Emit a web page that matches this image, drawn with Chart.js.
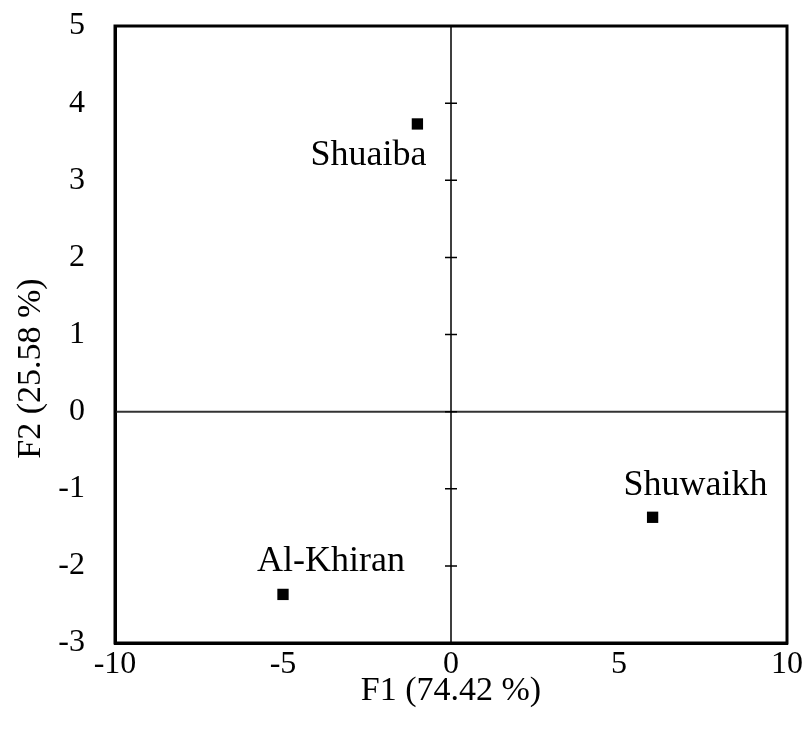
<!DOCTYPE html>
<html>
<head>
<meta charset="utf-8">
<script src="https://cdn.jsdelivr.net/npm/chart.js@4"></script>
<style>
  html, body { margin: 0; padding: 0; background: #fff; }
  #wrap { width: 803px; height: 737px; }
</style>
</head>
<body>
<div id="wrap"><canvas id="chart" width="803" height="737"></canvas></div>
<script>
// PCA scores of the three sites
const siteNames = ['Shuaiba', 'Shuwaikh', 'Al-Khiran'];
const f1Values = [-1, 6, -5];
const f2Values = [3.73, -1.37, -2.37];
const xTitle = 'F1 (74.42 %)';
const yTitle = 'F2 (25.58 %)';

const serif = '"Liberation Serif", "Times New Roman", serif';

// label placement relative to each point (px), baseline anchored
const labelOffsets = [[-49, 41], [43, -22], [48, -23]];

// zero axes, with ticks on the vertical one only
const zeroAxes = {
  id: 'zeroAxes',
  beforeDatasetsDraw(chart) {
    const { ctx, chartArea: a, scales: { x, y } } = chart;
    const x0 = x.getPixelForValue(0);
    const y0 = y.getPixelForValue(0);
    ctx.save();
    ctx.strokeStyle = '#333';
    ctx.lineWidth = 2;
    ctx.beginPath();
    ctx.moveTo(a.left, y0);
    ctx.lineTo(a.right, y0);
    ctx.stroke();
    ctx.strokeStyle = '#000';
    ctx.lineWidth = 1.5;
    ctx.beginPath();
    ctx.moveTo(x0, a.top);
    ctx.lineTo(x0, a.bottom);
    y.ticks.forEach(t => {
      const py = y.getPixelForValue(t.value);
      ctx.moveTo(x0 - 6, py);
      ctx.lineTo(x0 + 6, py);
    });
    ctx.stroke();
    ctx.restore();
  }
};

const pointLabels = {
  id: 'pointLabels',
  afterDatasetsDraw(chart) {
    const { ctx } = chart;
    const meta = chart.getDatasetMeta(0);
    ctx.save();
    ctx.font = '36px ' + serif;
    ctx.fillStyle = '#000';
    ctx.textAlign = 'center';
    ctx.textBaseline = 'alphabetic';
    meta.data.forEach((pt, i) => {
      const [dx, dy] = labelOffsets[i];
      ctx.fillText(siteNames[i], pt.x + dx, pt.y + dy);
    });
    ctx.restore();
  }
};

// y title is centred on the whole canvas height in the original, not the plot
const yTitlePlugin = {
  id: 'yTitle',
  afterDraw(chart) {
    const { ctx, height } = chart;
    ctx.save();
    ctx.font = '34px ' + serif;
    ctx.fillStyle = '#000';
    ctx.textAlign = 'center';
    ctx.textBaseline = 'middle';
    ctx.translate(31, height / 2);
    ctx.rotate(-Math.PI / 2);
    ctx.fillText(yTitle, 0, 0);
    ctx.restore();
  }
};

new Chart(document.getElementById('chart'), {
  type: 'scatter',
  data: {
    datasets: [{
      data: f1Values.map((v, i) => ({ x: v, y: f2Values[i] })),
      pointStyle: 'rect',
      pointRadius: 8,
      backgroundColor: '#000',
      borderColor: '#000',
      borderWidth: 0
    }]
  },
  options: {
    responsive: false,
    animation: false,
    layout: { padding: { top: 26, right: 16, left: 0, bottom: 0 } },
    plugins: { legend: { display: false }, tooltip: { enabled: false } },
    scales: {
      x: {
        min: -10, max: 10,
        ticks: { stepSize: 5, color: '#000', font: { family: serif, size: 32 }, padding: 2 },
        grid: { display: false, drawTicks: false },
        border: { display: true, color: '#000', width: 3 },
        title: { display: true, text: xTitle, color: '#000', font: { family: serif, size: 34 }, padding: { top: 0, bottom: 26 } },
        afterFit(s) { s.height = 94; s.paddingLeft = 0; s.paddingRight = 0; }
      },
      y: {
        min: -3, max: 5,
        ticks: { stepSize: 1, color: '#000', font: { family: serif, size: 32 }, padding: 30 },
        grid: { display: false, drawTicks: false },
        border: { display: true, color: '#000', width: 3 },
        title: { display: false, text: yTitle },
        afterFit(s) { s.width = 115; s.paddingTop = 0; s.paddingBottom = 0; }
      }
    }
  },
  plugins: [zeroAxes, pointLabels, yTitlePlugin, {
    id: 'frame',
    afterDraw(chart) {
      const { ctx, chartArea: a } = chart;
      ctx.save();
      ctx.strokeStyle = '#000';
      ctx.lineWidth = 3;
      ctx.strokeRect(a.left, a.top, a.right - a.left, a.bottom - a.top);
      ctx.restore();
    }
  }]
});
</script>
</body>
</html>
